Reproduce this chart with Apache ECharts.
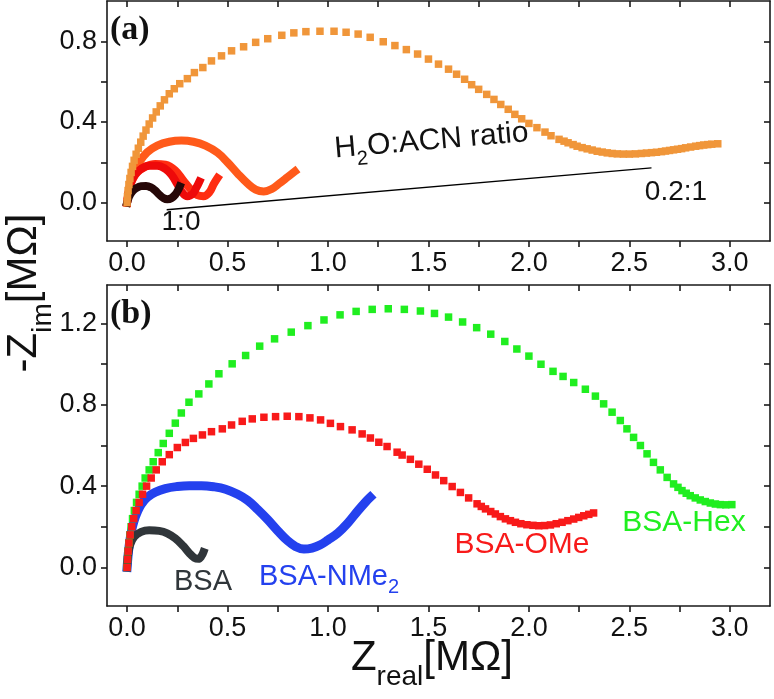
<!DOCTYPE html>
<html><head><meta charset="utf-8">
<script src="https://cdn.jsdelivr.net/npm/echarts@6/dist/echarts.min.js"></script>
<style>html,body{margin:0;padding:0;background:#fff}#c{width:774px;height:699px}</style>
</head><body><div id="c"></div>
<script>
// ---------- data ----------
const xTickValues = [0,0.25,0.5,0.75,1,1.25,1.5,1.75,2,2.25,2.5,2.75,3];
const xLabelValues = [0,0.5,1,1.5,2,2.5,3];
const yTickValuesA = [0,0.2,0.4,0.6,0.8];
const yLabelValuesA = [0,0.4,0.8];
const yTickValuesB = [0,0.2,0.4,0.6,0.8,1.0,1.2];
const yLabelValuesB = [0,0.4,0.8,1.2];

// panel (a): H2O:ACN ratio series
const a_ratio_1_0 = [[0,0],[0.01,0.03],[0.025,0.055],[0.045,0.072],[0.07,0.082],[0.095,0.083],[0.12,0.075],[0.14,0.06],[0.16,0.04],[0.18,0.024],[0.2,0.017],[0.22,0.022],[0.24,0.04],[0.255,0.065],[0.262,0.08]];
const a_ratio_2 = [[0,0],[0.008,0.05],[0.02,0.1],[0.04,0.14],[0.07,0.168],[0.11,0.183],[0.15,0.183],[0.19,0.168],[0.22,0.14],[0.25,0.092],[0.275,0.05],[0.3,0.032],[0.325,0.042],[0.345,0.075],[0.36,0.105]];
const a_ratio_3 = [[0,0],[0.01,0.06],[0.025,0.11],[0.05,0.15],[0.09,0.178],[0.14,0.192],[0.19,0.188],[0.24,0.16],[0.28,0.11],[0.32,0.062],[0.35,0.037],[0.38,0.032],[0.41,0.052],[0.43,0.09],[0.45,0.122]];
const a_ratio_4 = [[0,0],[0.01,0.07],[0.03,0.14],[0.06,0.2],[0.1,0.25],[0.15,0.283],[0.21,0.302],[0.27,0.308],[0.33,0.302],[0.39,0.283],[0.45,0.248],[0.5,0.2],[0.55,0.145],[0.6,0.095],[0.64,0.065],[0.68,0.056],[0.72,0.068],[0.76,0.097],[0.8,0.128],[0.835,0.155]];
const a_ratio_02_1 = [[0,0],[0.002,0.03],[0.005,0.06],[0.009,0.09],[0.014,0.12],[0.02,0.15],[0.027,0.18],[0.035,0.21],[0.045,0.24],[0.056,0.27],[0.068,0.3],[0.08,0.33],[0.094,0.36],[0.11,0.39],[0.127,0.42],[0.145,0.45],[0.165,0.48],[0.186,0.51],[0.21,0.54],[0.235,0.565],[0.262,0.59],[0.3,0.615],[0.335,0.645],[0.377,0.67],[0.42,0.703],[0.47,0.728],[0.52,0.753],[0.58,0.773],[0.64,0.795],[0.70,0.813],[0.77,0.83],[0.83,0.842],[0.89,0.848],[0.96,0.85],[1.03,0.85],[1.09,0.845],[1.15,0.836],[1.21,0.82],[1.275,0.798],[1.333,0.779],[1.39,0.759],[1.446,0.737],[1.5,0.712],[1.55,0.687],[1.6,0.662],[1.64,0.637],[1.68,0.612],[1.715,0.585],[1.75,0.562],[1.79,0.537],[1.826,0.512],[1.86,0.487],[1.897,0.463],[1.93,0.438],[1.964,0.416],[2.0,0.393],[2.04,0.372],[2.08,0.35],[2.11,0.332],[2.15,0.314],[2.175,0.305],[2.195,0.297],[2.22,0.288],[2.24,0.28],[2.265,0.273],[2.29,0.267],[2.315,0.261],[2.34,0.255],[2.365,0.251],[2.39,0.247],[2.415,0.244],[2.44,0.242],[2.47,0.241],[2.5,0.241],[2.53,0.242],[2.56,0.244],[2.585,0.246],[2.61,0.248],[2.635,0.25],[2.66,0.253],[2.68,0.256],[2.70,0.259],[2.72,0.262],[2.74,0.265],[2.76,0.268],[2.78,0.272],[2.805,0.276],[2.83,0.28],[2.85,0.283],[2.87,0.286],[2.89,0.288],[2.91,0.29],[2.94,0.292]];

// panel (b): BSA derivatives
const b_BSA = [[0,0],[0.005,0.06],[0.015,0.11],[0.035,0.15],[0.07,0.175],[0.11,0.183],[0.16,0.18],[0.2,0.168],[0.24,0.143],[0.28,0.105],[0.31,0.07],[0.335,0.047],[0.355,0.042],[0.37,0.055],[0.38,0.075]];
const b_NMe2 = [[0,0],[0.005,0.06],[0.012,0.12],[0.022,0.18],[0.035,0.23],[0.05,0.27],[0.07,0.31],[0.1,0.345],[0.14,0.37],[0.19,0.388],[0.25,0.398],[0.31,0.402],[0.37,0.402],[0.43,0.397],[0.49,0.385],[0.55,0.36],[0.6,0.33],[0.65,0.285],[0.7,0.235],[0.75,0.18],[0.8,0.13],[0.84,0.102],[0.88,0.09],[0.92,0.095],[0.96,0.11],[1.0,0.135],[1.05,0.17],[1.1,0.22],[1.15,0.28],[1.19,0.325],[1.21,0.345]];
const b_OMe = [[0,0],[0.002,0.04],[0.005,0.08],[0.009,0.12],[0.015,0.16],[0.023,0.2],[0.033,0.24],[0.045,0.28],[0.06,0.32],[0.077,0.36],[0.097,0.4],[0.12,0.44],[0.145,0.48],[0.175,0.52],[0.21,0.555],[0.25,0.59],[0.29,0.615],[0.33,0.635],[0.375,0.652],[0.42,0.668],[0.474,0.682],[0.52,0.701],[0.573,0.719],[0.623,0.731],[0.681,0.739],[0.739,0.742],[0.797,0.744],[0.855,0.742],[0.91,0.736],[0.963,0.726],[1.012,0.709],[1.062,0.693],[1.12,0.677],[1.17,0.657],[1.211,0.637],[1.253,0.616],[1.294,0.595],[1.344,0.567],[1.369,0.553],[1.41,0.532],[1.452,0.508],[1.494,0.483],[1.535,0.455],[1.576,0.427],[1.618,0.398],[1.659,0.369],[1.70,0.342],[1.742,0.313],[1.763,0.3],[1.784,0.288],[1.81,0.275],[1.833,0.263],[1.858,0.25],[1.883,0.239],[1.908,0.23],[1.933,0.222],[1.96,0.215],[1.99,0.21],[2.02,0.207],[2.049,0.205],[2.078,0.206],[2.107,0.209],[2.136,0.215],[2.165,0.222],[2.194,0.23],[2.223,0.238],[2.248,0.246],[2.273,0.254],[2.298,0.261],[2.322,0.268]];
const b_Hex = [[0,0],[0.002,0.04],[0.005,0.08],[0.009,0.12],[0.014,0.16],[0.02,0.2],[0.027,0.24],[0.036,0.28],[0.047,0.32],[0.06,0.36],[0.075,0.4],[0.09,0.44],[0.11,0.48],[0.13,0.52],[0.155,0.565],[0.18,0.61],[0.21,0.66],[0.24,0.71],[0.27,0.76],[0.308,0.813],[0.357,0.854],[0.407,0.903],[0.457,0.953],[0.523,1.002],[0.59,1.043],[0.66,1.089],[0.734,1.125],[0.817,1.158],[0.9,1.19],[0.98,1.218],[1.06,1.243],[1.14,1.26],[1.22,1.27],[1.30,1.273],[1.38,1.27],[1.46,1.262],[1.53,1.25],[1.6,1.232],[1.67,1.208],[1.74,1.18],[1.81,1.148],[1.88,1.112],[1.94,1.075],[2.0,1.04],[2.06,1.0],[2.12,0.965],[2.17,0.94],[2.223,0.91],[2.281,0.877],[2.331,0.843],[2.372,0.805],[2.414,0.764],[2.455,0.723],[2.488,0.682],[2.521,0.64],[2.555,0.6],[2.588,0.559],[2.62,0.517],[2.654,0.48],[2.688,0.443],[2.72,0.411],[2.742,0.394],[2.762,0.378],[2.783,0.365],[2.803,0.353],[2.828,0.342],[2.853,0.332],[2.878,0.324],[2.903,0.317],[2.928,0.312],[2.953,0.309],[2.98,0.308],[3.01,0.309]];

const arrowFrom = [0.197,-0.035];
const arrowTo = [2.61,0.173];

// ---------- chart ----------
const FONT = 'Liberation Sans';
const chart = echarts.init(document.getElementById('c'), null, {renderer:'canvas'});
const axisLineStyle = {color:'#1a1a1a', width:1.6};
function xAxes(gridIndex){
  return [{
    type:'value', gridIndex, position:'bottom', min:-0.1, max:3.2,
    axisLine:{show:true, onZero:false, lineStyle:axisLineStyle},
    axisTick:{show:true, inside:false, length:6, lineStyle:axisLineStyle, customValues:xTickValues},
    axisLabel:{show:true, margin:9, fontSize:27, color:'#111', fontFamily:FONT,
      customValues:xLabelValues, formatter:v=>v.toFixed(1)},
    splitLine:{show:false}
  },{
    type:'value', gridIndex, position:'top', min:-0.1, max:3.2,
    axisLine:{show:true, onZero:false, lineStyle:axisLineStyle},
    axisTick:{show:true, inside:true, length:6, lineStyle:axisLineStyle, customValues:xTickValues},
    axisLabel:{show:false}, splitLine:{show:false}
  }];
}
function yAxes(gridIndex, min, max, ticks, labels){
  return [{
    type:'value', gridIndex, position:'left', min, max,
    axisLine:{show:true, onZero:false, lineStyle:axisLineStyle},
    axisTick:{show:true, inside:false, length:6, lineStyle:axisLineStyle, customValues:ticks},
    axisLabel:{show:true, margin:10, fontSize:27, color:'#111', fontFamily:FONT,
      customValues:labels, formatter:v=>v.toFixed(1)},
    splitLine:{show:false}
  },{
    type:'value', gridIndex, position:'right', min, max,
    axisLine:{show:true, onZero:false, lineStyle:axisLineStyle},
    axisTick:{show:true, inside:true, length:6, lineStyle:axisLineStyle, customValues:ticks},
    axisLabel:{show:false}, splitLine:{show:false}
  }];
}
function squares(data, color, xi, yi, size){
  return {type:'scatter', data, xAxisIndex:xi, yAxisIndex:yi, symbol:'rect',
    symbolSize:size||7.5, itemStyle:{color, opacity:1}, silent:true, z:3};
}
function band(data, color, xi, yi, w){
  return {type:'line', data, xAxisIndex:xi, yAxisIndex:yi, smooth:0.4, showSymbol:false,
    lineStyle:{color, width:w||8, cap:'square', join:'round'}, silent:true, z:3};
}

const option = {
  animation:false,
  backgroundColor:'#fff',
  grid:[
    {left:107, top:1, width:663, height:240},
    {left:107, top:285, width:663, height:321}
  ],
  xAxis:[...xAxes(0), ...xAxes(1)],
  yAxis:[...yAxes(0,-0.19,1.0,yTickValuesA,yLabelValuesA), ...yAxes(1,-0.19,1.39,yTickValuesB,yLabelValuesB)],
  series:[
    squares(a_ratio_02_1, '#f0963a', 0, 0, 7.5),
    band(a_ratio_4, '#ff5a1a', 0, 0, 8),
    band(a_ratio_3, '#ff2d12', 0, 0, 8),
    band(a_ratio_2, '#ee0a0a', 0, 0, 8),
    Object.assign(band(a_ratio_1_0, '#260808', 0, 0, 8), {
      markLine:{silent:true, symbol:['none','arrow'], symbolSize:[0,11],
        lineStyle:{color:'#000', width:1.3, type:'solid'}, label:{show:false},
        data:[[{coord:arrowFrom},{coord:arrowTo}]]}
    }),
    squares(b_Hex, '#20ee20', 2, 2, 7.5),
    squares(b_OMe, '#f81a1a', 2, 2, 7.5),
    band(b_NMe2, '#2441ee', 2, 2, 9),
    band(b_BSA, '#30363a', 2, 2, 8)
  ],
  graphic:[
    {type:'text', x:110, y:13, style:{text:'(a)', font:'bold 34px "Liberation Serif"', fill:'#111'}},
    {type:'text', x:110, y:297, style:{text:'(b)', font:'bold 34px "Liberation Serif"', fill:'#111'}},
    {type:'text', x:181, y:222, style:{text:'1:0', font:'28px "Liberation Sans"', fill:'#111', align:'center', verticalAlign:'middle'}},
    {type:'text', x:676, y:192, style:{text:'0.2:1', font:'28px "Liberation Sans"', fill:'#111', align:'center', verticalAlign:'middle'}},
    {type:'text', x:432, y:148, rotation:0.085, style:{
      text:'{n|H}{s|2}{n|O:ACN ratio}', align:'center', verticalAlign:'middle', fill:'#111',
      rich:{n:{fontSize:30, fontFamily:FONT, lineHeight:30, padding:[0,0,7,0], verticalAlign:'bottom'},
            s:{fontSize:20, fontFamily:FONT, lineHeight:20, verticalAlign:'bottom'}}}},
    {type:'text', x:203, y:582, style:{text:'BSA', font:'29px "Liberation Sans"', fill:'#30363a', align:'center', verticalAlign:'middle'}},
    {type:'text', x:259, y:583, style:{
      text:'{n|BSA-NMe}{s|2}', align:'left', verticalAlign:'middle', fill:'#2441ee',
      rich:{n:{fontSize:29, fontFamily:FONT, lineHeight:29, padding:[0,0,6,0], verticalAlign:'bottom', color:'#2441ee'},
            s:{fontSize:20, fontFamily:FONT, lineHeight:20, verticalAlign:'bottom', color:'#2441ee'}}}},
    {type:'text', x:522, y:545, style:{text:'BSA-OMe', font:'30px "Liberation Sans"', fill:'#f81a1a', align:'center', verticalAlign:'middle'}},
    {type:'text', x:684, y:523, style:{text:'BSA-Hex', font:'30px "Liberation Sans"', fill:'#20ee20', align:'center', verticalAlign:'middle'}},
    {type:'text', x:432, y:670, style:{
      text:'{n|Z}{s|real}{n|[MΩ]}', align:'center', verticalAlign:'middle', fill:'#111',
      rich:{n:{fontSize:42, fontFamily:FONT, lineHeight:42, padding:[0,0,12,0], verticalAlign:'bottom'},
            s:{fontSize:28, fontFamily:FONT, lineHeight:28, verticalAlign:'bottom'}}}},
    {type:'text', x:36, y:293, rotation:Math.PI/2, style:{
      text:'{n|-Z}{s|im}{n|[MΩ]}', align:'center', verticalAlign:'middle', fill:'#111',
      rich:{n:{fontSize:42, fontFamily:FONT, lineHeight:42, padding:[0,0,12,0], verticalAlign:'bottom'},
            s:{fontSize:28, fontFamily:FONT, lineHeight:28, verticalAlign:'bottom'}}}}
  ]
};
chart.setOption(option);
</script></body></html>
